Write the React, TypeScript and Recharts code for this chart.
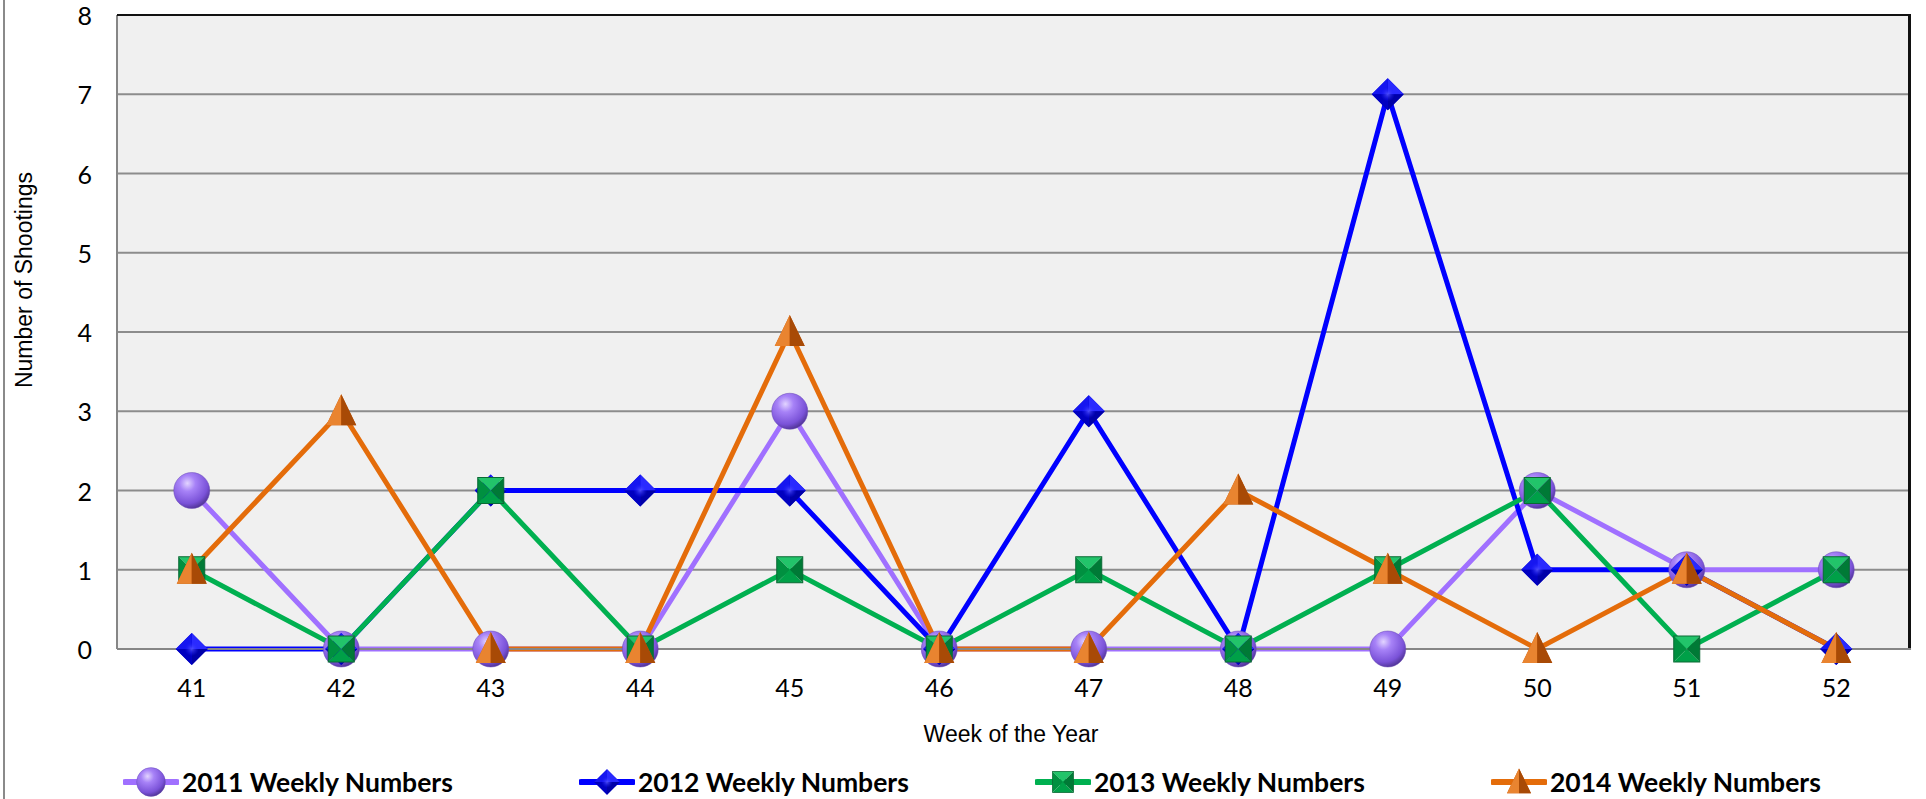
import React from "react";
import {
  LineChart,
  Line,
  XAxis,
  YAxis,
  CartesianGrid,
} from "recharts";

// week numbers on the x axis
const weeks = ["41", "42", "43", "44", "45", "46", "47", "48", "49", "50", "51", "52"];

// weekly shooting counts per year
const weekly2011 = [2, 0, 0, 0, 3, 0, 0, 0, 0, 2, 1, 1];
const weekly2012 = [0, 0, 2, 2, 2, 0, 3, 0, 7, 1, 1, 0];
const weekly2013 = [1, 0, 2, 0, 1, 0, 1, 0, 1, 2, 0, 1];
const weekly2014 = [1, 3, 0, 0, 4, 0, 0, 2, 1, 0, 1, 0];

const yTicks = [0, 1, 2, 3, 4, 5, 6, 7, 8];

const seriesNames = [
  "2011 Weekly Numbers",
  "2012 Weekly Numbers",
  "2013 Weekly Numbers",
  "2014 Weekly Numbers",
];

const data = weeks.map((week, i) => ({
  week,
  y2011: weekly2011[i],
  y2012: weekly2012[i],
  y2013: weekly2013[i],
  y2014: weekly2014[i],
}));

const W = 1926;
const H = 799;
const PLOT_LEFT = 117;
const PLOT_RIGHT = 1911;
const PLOT_TOP = 15;
const PLOT_BOTTOM = 649;
const bandPad = (PLOT_RIGHT - PLOT_LEFT) / 24;

const tickFont = "Lato, 'Open Sans', sans-serif";
const labelFont = "'Liberation Sans', Arial, sans-serif";

// marker shapes ------------------------------------------------------------
const Ball = ({ cx, cy, r = 18 }: { cx: number; cy: number; r?: number }) => (
  <g>
    <circle cx={cx} cy={cy} r={r} fill="url(#ballGrad)" stroke="#6a4ab8" strokeWidth={1} strokeOpacity={0.5} />
  </g>
);

const Diamond = ({ cx, cy, s = 16 }: { cx: number; cy: number; s?: number }) => (
  <g>
    <polygon points={`${cx},${cy - s} ${cx + s},${cy} ${cx},${cy + s} ${cx - s},${cy}`} fill="#0000d8" />
    <polygon points={`${cx},${cy - s} ${cx + s},${cy} ${cx},${cy}`} fill="#2a2aff" />
    <polygon points={`${cx},${cy - s} ${cx - s},${cy} ${cx},${cy}`} fill="#1616f0" />
    <polygon points={`${cx},${cy + s} ${cx + s},${cy} ${cx},${cy}`} fill="#0000a8" />
    <polygon points={`${cx},${cy + s} ${cx - s},${cy} ${cx},${cy}`} fill="#0000c0" />
    <circle cx={cx} cy={cy} r={s * 0.45} fill="url(#diaGlow)" />
  </g>
);

const Pyramid = ({ cx, cy, s = 13 }: { cx: number; cy: number; s?: number }) => (
  <g>
    <polygon points={`${cx - s},${cy - s} ${cx + s},${cy - s} ${cx},${cy}`} fill="#22c46a" />
    <polygon points={`${cx - s},${cy + s} ${cx + s},${cy + s} ${cx},${cy}`} fill="#00a048" />
    <polygon points={`${cx - s},${cy - s} ${cx - s},${cy + s} ${cx},${cy}`} fill="#009040" />
    <polygon points={`${cx + s},${cy - s} ${cx + s},${cy + s} ${cx},${cy}`} fill="#007a36" />
    <rect x={cx - s} y={cy - s} width={2 * s} height={2 * s} fill="none" stroke="#0a6a34" strokeWidth={1} />
  </g>
);

const Cone = ({ cx, cy, w = 15 }: { cx: number; cy: number; w?: number }) => (
  <g>
    <polygon points={`${cx},${cy - 17} ${cx - w},${cy + 14} ${cx + w},${cy + 14}`} fill="#c85a08" />
    <polygon points={`${cx},${cy - 17} ${cx - w},${cy + 14} ${cx},${cy + 14}`} fill="#e98430" />
    <polygon points={`${cx},${cy - 17} ${cx},${cy + 14} ${cx + w},${cy + 14}`} fill="#a84a06" />
  </g>
);

const series = [
  { key: "y2011", color: "#a070ff", Marker: Ball },
  { key: "y2012", color: "#0000ff", Marker: Diamond },
  { key: "y2013", color: "#00b050", Marker: Pyramid },
  { key: "y2014", color: "#e46c0a", Marker: Cone },
];

const makeDot = (Marker: any) => (props: any) => {
  const { cx, cy, index } = props;
  if (cx == null || cy == null) return <g key={index} />;
  return (
    <g key={`dot-${index}`}>
      <Marker cx={cx} cy={cy} />
    </g>
  );
};

const XTick = (props: any) => {
  const { x, y, payload } = props;
  return (
    <text x={x} y={y + 38} textAnchor="middle" dominantBaseline="central" fontFamily={tickFont} fontSize={25} fill="#000">
      {payload.value}
    </text>
  );
};

const YTick = (props: any) => {
  const { x, y, payload } = props;
  return (
    <text x={x - 25} y={y} textAnchor="end" dominantBaseline="central" fontFamily={tickFont} fontSize={25} fill="#000">
      {payload.value}
    </text>
  );
};

export default function App() {
  return (
    <div style={{ position: "absolute", left: 0, top: 0, width: W, height: H, background: "#fff", overflow: "hidden" }}>
      <LineChart
        width={W}
        height={H}
        data={data}
        margin={{ top: PLOT_TOP, right: W - PLOT_RIGHT, bottom: 90, left: 0 }}
      >
        <defs>
          <radialGradient id="ballGrad" cx="38%" cy="30%" r="75%">
            <stop offset="0%" stopColor="#e2d4ff" />
            <stop offset="30%" stopColor="#a782f7" />
            <stop offset="75%" stopColor="#7a52d8" />
            <stop offset="100%" stopColor="#4a2f8c" />
          </radialGradient>
          <radialGradient id="diaGlow" cx="50%" cy="50%" r="50%">
            <stop offset="0%" stopColor="#5a5aff" stopOpacity={0.8} />
            <stop offset="100%" stopColor="#2020ff" stopOpacity={0} />
          </radialGradient>
        </defs>
        <CartesianGrid
          horizontal
          vertical={false}
          stroke="#8c8c8c"
          strokeWidth={2}
          fill="#f0f0f0"
        />
        <XAxis
          dataKey="week"
          height={60}
          padding={{ left: bandPad, right: bandPad }}
          axisLine={{ stroke: "#868686", strokeWidth: 2 }}
          tickLine={false}
          tickSize={0}
          tickMargin={0}
          tick={<XTick />}
          interval={0}
        />
        <YAxis
          width={PLOT_LEFT}
          domain={[0, 8]}
          ticks={yTicks}
          interval={0}
          axisLine={{ stroke: "#868686", strokeWidth: 2 }}
          tickLine={false}
          tickSize={0}
          tickMargin={0}
          tick={<YTick />}
        />
        {series.map((s) => (
          <Line
            key={s.key}
            dataKey={s.key}
            type="linear"
            stroke={s.color}
            strokeWidth={5}
            dot={makeDot(s.Marker)}
            activeDot={false}
            isAnimationActive={false}
          />
        ))}
      </LineChart>

      {/* frame: black top/right plot border and left page rule */}
      <div
        style={{
          position: "absolute",
          left: PLOT_LEFT,
          top: PLOT_TOP - 1,
          width: PLOT_RIGHT - PLOT_LEFT,
          height: PLOT_BOTTOM - PLOT_TOP,
          borderTop: "2px solid #111",
          borderRight: "3px solid #111",
          boxSizing: "border-box",
          pointerEvents: "none",
        }}
      />
      <div style={{ position: "absolute", left: 3, top: 0, width: 2, height: H, background: "#8a8a8a" }} />

      {/* axis titles */}
      <div
        style={{
          position: "absolute",
          left: 24,
          top: 280,
          transform: "translate(-50%, -50%) rotate(-90deg)",
          whiteSpace: "nowrap",
          fontFamily: labelFont,
          fontSize: 23,
          color: "#000",
        }}
      >
        Number of Shootings
      </div>
      <div
        style={{
          position: "absolute",
          left: 1011,
          top: 734,
          transform: "translate(-50%, -50%)",
          whiteSpace: "nowrap",
          fontFamily: labelFont,
          fontSize: 23,
          color: "#000",
        }}
      >
        Week of the Year
      </div>

      {/* legend */}
      {series.map((s, i) => (
        <div
          key={s.key}
          style={{
            position: "absolute",
            left: 123 + i * 456,
            top: 782,
            transform: "translateY(-50%)",
            display: "flex",
            alignItems: "center",
            whiteSpace: "nowrap",
          }}
        >
          <svg width={56} height={36}>
            <line x1={2} y1={18} x2={54} y2={18} stroke={s.color} strokeWidth={6} strokeLinecap="round" />
            <g transform="translate(28 18) scale(0.8) translate(-28 -18)">
              <s.Marker cx={28} cy={18} />
            </g>
          </svg>
          <span style={{ fontFamily: tickFont, fontWeight: 700, fontSize: 26.5, color: "#000", marginLeft: 3 }}>
            {seriesNames[i]}
          </span>
        </div>
      ))}
    </div>
  );
}
